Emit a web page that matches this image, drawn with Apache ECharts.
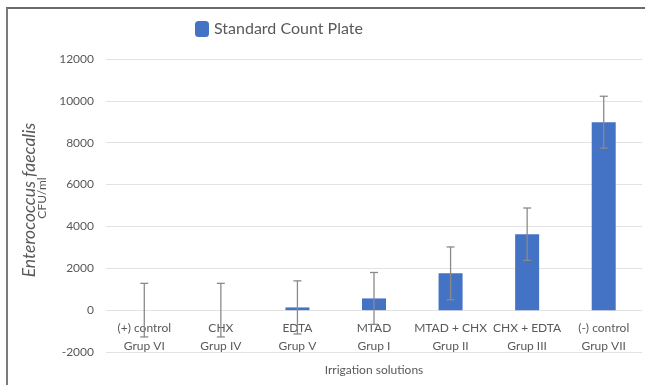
<!DOCTYPE html>
<html>
<head>
<meta charset="utf-8">
<script src="https://cdn.jsdelivr.net/npm/echarts@6/dist/echarts.min.js"></script>
<style>
html,body{margin:0;padding:0;background:#fff;}
#frame{position:absolute;left:6px;top:7px;width:639px;height:378px;border-left:2px solid #7a7a7a;border-top:2px solid #6a6a6a;box-sizing:border-box;}
#chart{position:absolute;left:0;top:0;width:645px;height:385px;}
</style>
</head>
<body>
<div id="frame"></div>
<div id="chart"></div>
<script>
const categories = ["(+) control\nGrup VI", "CHX\nGrup IV", "EDTA\nGrup V", "MTAD\nGrup I", "MTAD + CHX\nGrup II", "CHX + EDTA\nGrup III", "(-) control\nGrup VII"];
const values = [0, 0, 130, 560, 1760, 3630, 8980];
const errors = [1280, 1280, 1270, 1240, 1260, 1250, 1240];
const yTicks = { min: -2000, max: 12000, interval: 2000 };
const yTitle = "Enterococcus faecalis";
const yUnit = "CFU/ml";

const font = "Lato, 'Open Sans', sans-serif";
const chart = echarts.init(document.getElementById('chart'), null, { renderer: 'canvas' });
chart.setOption({
  animation: false,
  textStyle: { fontFamily: font },
  legend: {
    left: 190, top: 16,
    itemWidth: 14, itemHeight: 16, itemGap: 9,
    data: ['Standard Count Plate'],
    textStyle: { fontSize: 16, color: '#595959', fontFamily: font }
  },
  graphic: [
    {
      type: 'text', x: 29, y: 200, rotation: Math.PI / 2,
      style: { text: yTitle, font: 'italic 17.5px ' + font, fill: '#595959', align: 'center', verticalAlign: 'middle' }
    },
    {
      type: 'text', x: 42, y: 198, rotation: Math.PI / 2,
      style: { text: yUnit, font: '12px ' + font, fill: '#595959', align: 'center', verticalAlign: 'middle' }
    }
  ],
  grid: { left: 106, right: 3, top: 59, bottom: 33, containLabel: false, outerBoundsMode: 'none' },
  xAxis: {
    type: 'category',
    data: categories,
    axisLine: { show: false, onZero: false },
    axisTick: { show: false },
    axisLabel: { color: '#595959', fontSize: 12, lineHeight: 18, margin: -33, interval: 0 },
    name: 'Irrigation solutions',
    nameLocation: 'middle',
    nameGap: 12,
    nameTextStyle: { color: '#595959', fontSize: 12 }
  },
  yAxis: {
    type: 'value',
    min: yTicks.min, max: yTicks.max, interval: yTicks.interval,
    axisLine: { show: false },
    axisTick: { show: false },
    splitLine: { lineStyle: { color: '#e3e3e3' } },
    axisLabel: { color: '#595959', fontSize: 12, margin: 12, formatter: function (v) { return String(v); } }
  },
  series: [
    {
      name: 'Standard Count Plate',
      type: 'bar',
      data: values,
      barWidth: 24,
      itemStyle: { color: '#4472c4' },
      z: 2
    },
    {
      type: 'custom',
      data: values.map((v, i) => [i, v - errors[i], v + errors[i]]),
      z: 3,
      renderItem: function (params, api) {
        const i = api.value(0);
        const lo = api.coord([i, api.value(1)]);
        const hi = api.coord([i, api.value(2)]);
        const x = lo[0];
        const hw = 4;
        const style = { stroke: '#8a8a8a', lineWidth: 1.3 };
        return {
          type: 'group',
          children: [
            { type: 'line', shape: { x1: x, y1: lo[1], x2: x, y2: hi[1] }, style: style },
            { type: 'line', shape: { x1: x - hw, y1: lo[1], x2: x + hw, y2: lo[1] }, style: style },
            { type: 'line', shape: { x1: x - hw, y1: hi[1], x2: x + hw, y2: hi[1] }, style: style }
          ]
        };
      }
    }
  ]
});
</script>
</body>
</html>
